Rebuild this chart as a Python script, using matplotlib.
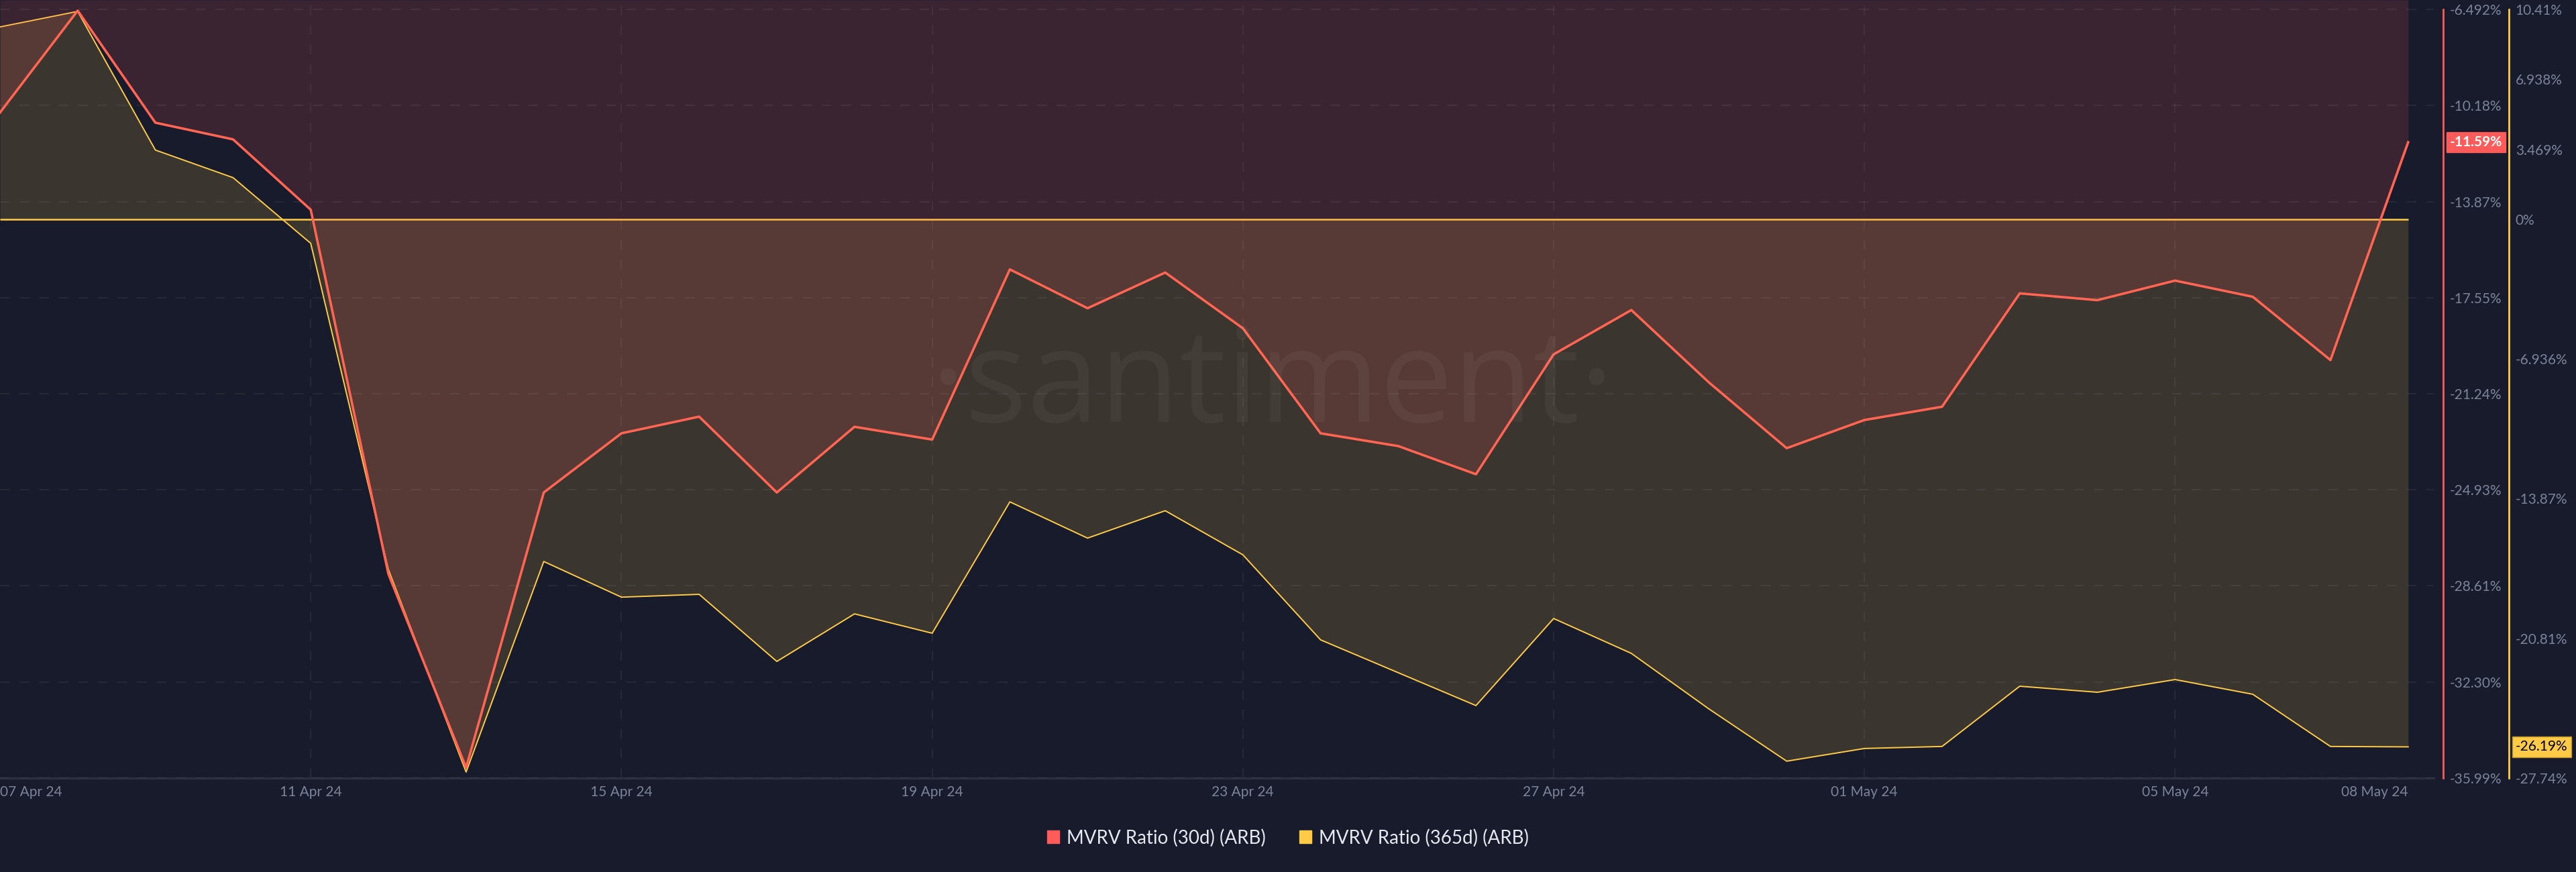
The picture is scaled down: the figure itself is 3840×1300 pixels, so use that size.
import matplotlib
matplotlib.use("Agg")
import matplotlib.pyplot as plt
import matplotlib.dates as mdates
from matplotlib.patches import Patch
import pandas as pd

# daily values, 07 Apr 24 .. 08 May 24
dates = pd.date_range("2024-04-07", "2024-05-08", freq="D")
mvrv_30d = [-10.45, -6.54, -10.84, -11.48, -14.18, -28.16, -35.59, -25.03,
            -22.76, -22.12, -25.03, -22.51, -23.00, -16.47, -17.96, -16.59,
            -18.73, -22.76, -23.25, -24.33, -19.73, -18.03, -20.81, -23.33,
            -22.25, -21.74, -17.39, -17.65, -16.90, -17.52, -19.95, -11.59]
mvrv_365d = [9.54, 10.31, 3.43, 2.06, -1.20, -17.39, -27.44, -16.99,
             -18.76, -18.62, -21.95, -19.59, -20.55, -14.03, -15.83, -14.47,
             -16.66, -20.88, -22.51, -24.14, -19.82, -21.55, -24.31, -26.90,
             -26.27, -26.17, -23.18, -23.48, -22.85, -23.58, -26.17, -26.19]

red_ticks = [-6.492, -10.18, -13.87, -17.55, -21.24, -24.93, -28.61, -32.30, -35.99]
red_tick_labels = ["-6.492%", "-10.18%", "-13.87%", "-17.55%", "-21.24%",
                   "-24.93%", "-28.61%", "-32.30%", "-35.99%"]
yellow_ticks = [10.41, 6.938, 3.469, 0, -6.936, -13.87, -20.81, -27.74]
yellow_tick_labels = ["10.41%", "6.938%", "3.469%", "0%", "-6.936%",
                      "-13.87%", "-20.81%", "-27.74%"]
date_ticks = pd.to_datetime(["2024-04-07", "2024-04-11", "2024-04-15", "2024-04-19",
                             "2024-04-23", "2024-04-27", "2024-05-01", "2024-05-05",
                             "2024-05-08"])
date_labels = ["07 Apr 24", "11 Apr 24", "15 Apr 24", "19 Apr 24", "23 Apr 24",
               "27 Apr 24", "01 May 24", "05 May 24", "08 May 24"]
labels = ["MVRV Ratio (30d) (ARB)", "MVRV Ratio (365d) (ARB)"]

BG = "#181b2b"
RED = "#ff5b5b"
RED_LINE = "#ff6552"
YELLOW = "#ffcb47"
TXT = "#7c8399"

plt.rcParams["font.family"] = ["Lato", "DejaVu Sans"]

fig = plt.figure(figsize=(38.4, 13), dpi=100, facecolor=BG)
ax = fig.add_axes([0, 140 / 1300, 3628 / 3840, 1160 / 1300])  # yellow scale
ax.set_facecolor(BG)
ax2 = ax.twinx()  # red scale

x = mdates.date2num(dates)

# yellow series: area to its zero line
ax.fill_between(x, mvrv_365d, 0, color=YELLOW, alpha=0.15, linewidth=0)
ax.hlines(0, x[0], x[-1], color=YELLOW, linewidth=1.8)
ax.plot(x, mvrv_365d, color=YELLOW, linewidth=1.4)
ax.set_ylim(-27.74, 10.876)

# red series: area up to the top
ax2.fill_between(x, mvrv_30d, -6.132, color=RED, alpha=0.15, linewidth=0)
ax2.plot(x, mvrv_30d, color=RED_LINE, linewidth=2.6)
ax2.set_ylim(-35.99, -6.132)

ax.set_xlim(x[0], x[-1] + 0.33)

# spines / axes
for s in ["left", "top"]:
    ax.spines[s].set_visible(False)
    ax2.spines[s].set_visible(False)
ax2.spines["bottom"].set_visible(False)
ax.spines["bottom"].set_color("#2a2e40")
ax.spines["bottom"].set_linewidth(2.5)

ax.yaxis.tick_right()
ax.spines["right"].set_position(("outward", 80.6))
ax.spines["right"].set_color(YELLOW)
ax.spines["right"].set_linewidth(2)
ax.spines["right"].set_bounds(yellow_ticks[-1], yellow_ticks[0])
ax.set_yticks(yellow_ticks)
ax.set_yticklabels(yellow_tick_labels)
ax.tick_params(axis="y", length=0, pad=7, labelsize=15, labelcolor=TXT)

ax2.spines["right"].set_position(("outward", 10))
ax2.spines["right"].set_color(RED)
ax2.spines["right"].set_linewidth(2)
ax2.spines["right"].set_bounds(red_ticks[-1], red_ticks[0])
ax2.set_yticks(red_ticks)
ax2.set_yticklabels(red_tick_labels)
ax2.tick_params(axis="y", length=0, pad=7, labelsize=15, labelcolor=TXT)

ax.set_xticks(mdates.date2num(date_ticks))
ax.set_xticklabels(date_labels)
ax.tick_params(axis="x", length=0, pad=8, labelsize=15, labelcolor=TXT)
xl = ax.get_xticklabels()
xl[0].set_ha("left")
xl[-1].set_ha("right")

# grid
ax2.grid(axis="y", color="#ffffff", alpha=0.06, linewidth=1.5, linestyle=(0, (7, 7)))
ax.grid(axis="x", color="#ffffff", alpha=0.06, linewidth=1.5, linestyle=(0, (7, 7)))
ax.get_xgridlines()[0].set_visible(False)
ax.get_xgridlines()[-1].set_visible(False)

# last value boxes
ax2.text(1.0066, mvrv_30d[-1], "-11.59%", transform=ax2.get_yaxis_transform(),
         ha="left", va="center", fontsize=15, color="white", fontweight="bold",
         bbox=dict(boxstyle="square,pad=0.25", fc=RED, ec=RED))
ax.text(1.0336, mvrv_365d[-1], "-26.19%", transform=ax.get_yaxis_transform(),
        ha="left", va="center", fontsize=15, color="black",
        bbox=dict(boxstyle="square,pad=0.25", fc=YELLOW, ec="#b8912f"))

# watermark
fig.text(0.494, 0.555, "·santiment·", ha="center", va="center", fontsize=140,
         family=["Open Sans", "DejaVu Sans"], color="white", alpha=0.045)

handles = [Patch(color=RED), Patch(color=YELLOW)]
fig.legend(handles, labels, loc="center", bbox_to_anchor=(0.5, 51 / 1300), ncol=2,
           frameon=False, fontsize=20, labelcolor="#e6e8ef", handlelength=0.65,
           handleheight=0.65, handletextpad=0.4, columnspacing=1.8)

fig.savefig("out.png", dpi=100, facecolor=BG)
